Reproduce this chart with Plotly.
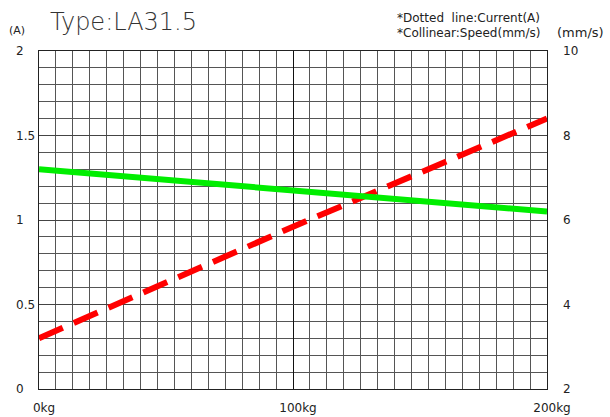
import plotly.graph_objects as go

load_kg = [0, 50, 100, 150, 200]
current_a = [0.30, 0.63, 0.96, 1.28, 1.60]
speed_mms = [7.20, 6.95, 6.70, 6.45, 6.20]

x_tickvals = [0, 100, 200]
x_ticktext = ["0kg", "100kg", "200kg"]
y_tickvals = [0, 0.5, 1, 1.5, 2]
y_ticktext = ["0", "0.5", "1", "1.5", "2"]
y2_tickvals = [2, 4, 6, 8, 10]

FONT = "DejaVu Sans"
W, H = 610, 417
PL, PR, PT, PB = 39, 547, 51, 389   # plot area in pixels
R, T, B = W - PR, PT, H - PB
paper_w = PR                         # left margin 0, paper spans 0..547
dom0 = PL / paper_w

fig = go.Figure()
fig.add_trace(go.Scatter(x=load_kg, y=speed_mms, yaxis="y2", mode="lines",
                         line=dict(color="#00ee00", width=6), name="Speed"))
fig.add_trace(go.Scatter(x=load_kg, y=current_a, mode="lines",
                         line=dict(color="#ff0000", width=6, dash="26px,12px"), name="Current"))
# invisible trace to activate the left label axis
fig.add_trace(go.Scatter(x=load_kg, y=current_a, yaxis="y3", mode="lines",
                         line=dict(width=0), hoverinfo="skip", showlegend=False,
                         opacity=0))

tf = dict(family=FONT, size=12, color="#222")
fig.update_layout(
    width=W, height=H,
    margin=dict(l=0, r=R, t=T, b=B, autoexpand=False),
    paper_bgcolor="white", plot_bgcolor="white",
    showlegend=False,
    font=dict(family=FONT, size=12, color="#222"),
    xaxis=dict(domain=[dom0, 1], range=[0, 200], tickvals=x_tickvals, ticktext=x_ticktext,
               showgrid=True, gridcolor="#111", gridwidth=1,
               minor=dict(dtick=200/30, showgrid=True, gridcolor="#555", gridwidth=1),
               showline=True, linecolor="#222", linewidth=1, mirror=True,
               zeroline=False, ticks="", ticklabelstandoff=8, ticklabelshift=5,
               automargin=False, tickfont=tf),
    yaxis=dict(range=[0, 2], tickvals=y_tickvals, showticklabels=False,
               showgrid=True, gridcolor="#444", gridwidth=1,
               minor=dict(dtick=0.1, showgrid=True, gridcolor="#555", gridwidth=1),
               showline=True, linecolor="#222", linewidth=1, mirror=True,
               zeroline=False, ticks="", automargin=False),
    yaxis3=dict(range=[0, 2], tickvals=y_tickvals, ticktext=y_ticktext,
                overlaying="y", side="right", anchor="free", position=0,
                showgrid=False, zeroline=False, showline=False, ticks="",
                ticklabelstandoff=15, automargin=False, tickfont=tf),
    yaxis2=dict(range=[2, 10], tickvals=y2_tickvals, overlaying="y", side="right",
                showgrid=False, zeroline=False, ticks="", ticklabelstandoff=15,
                automargin=False, tickfont=tf),
)

specs = [
    ("Type:LA31.5", 48, 22, 24, "#333", "left", 200),
    ("(A)", 17, 30, 11, "#222", "center", 400),
    ("(mm/s)", 580, 32, 13, "#222", "center", 400),
    ("*Dotted  line:Current(A)", 395, 18, 12, "#222", "left", 400),
    ("*Collinear:Speed(mm/s)", 395, 33, 12, "#222", "left", 400),
]
ph = PB - PT
anns = []
for text, px, py, size, color, anchor, wt in specs:
    anns.append(dict(text=text, x=px / paper_w, y=(PB - py) / ph,
                     xref="paper", yref="paper", xanchor=anchor, yanchor="middle",
                     showarrow=False,
                     font=dict(family=FONT, size=size, color=color, weight=wt)))
fig.update_layout(annotations=anns)

fig.write_html("out.html", config={"displayModeBar": False},
               post_script="document.body.style.margin='0';document.body.style.overflow='hidden';")
